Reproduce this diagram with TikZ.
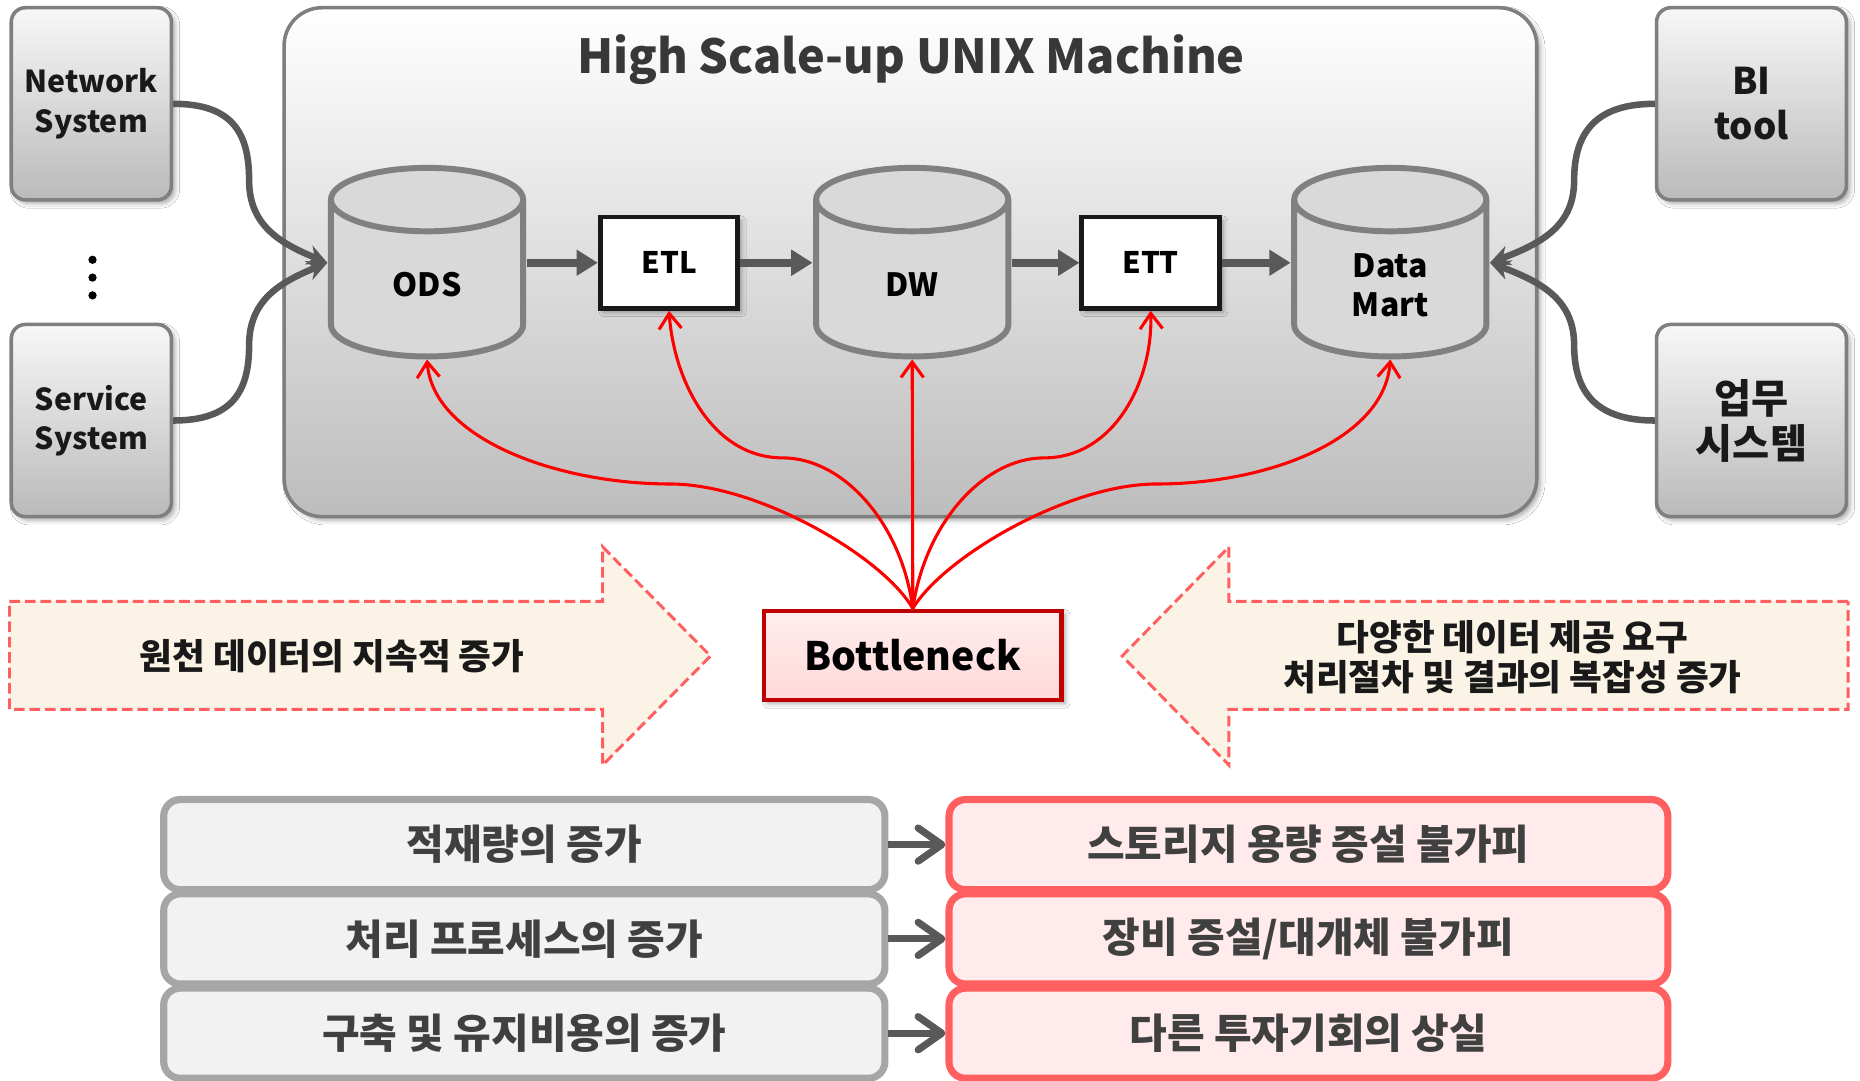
\documentclass[tikz,border=0pt]{standalone}
\usepackage{fontspec}
\setmainfont{Noto Sans CJK KR}
\usetikzlibrary{arrows.meta,shadows.blur}
\definecolor{dgray}{HTML}{595959}
\definecolor{cylgray}{HTML}{808080}
\definecolor{cylfill}{HTML}{D9D9D9}
\definecolor{boxborder}{HTML}{7F7F7F}
\definecolor{txtgray}{HTML}{404040}
\definecolor{titlegray}{HTML}{383838}
\definecolor{salmon}{HTML}{FF5F5F}
\definecolor{cream}{HTML}{FAF3E6}
\definecolor{lgfill}{HTML}{F2F2F2}
\definecolor{lgborder}{HTML}{A6A6A6}
\definecolor{pinkfill}{HTML}{FFEBEB}
\definecolor{bnfill}{HTML}{FFD9D9}
\definecolor{bnborder}{HTML}{C00000}
\definecolor{bnlight}{HTML}{FFEDED}
\newcommand\myfs[2]{\fontsize{#1pt}{#2pt}\selectfont}
\newcommand\drawcyl[1]{%
  \path[draw=cylgray,line width=5pt,fill=cylfill] (#1-81,168.25) -- (#1-81,273.75)
    arc[start angle=180,end angle=360,x radius=81pt,y radius=26.75pt] -- (#1+81,168.25)
    arc[start angle=0,end angle=180,x radius=81pt,y radius=26.75pt] -- cycle;
  \draw[draw=cylgray,line width=5pt] (#1-81,168.25)
    arc[start angle=180,end angle=360,x radius=81pt,y radius=26.75pt];}
\begin{document}
\begin{tikzpicture}[x=1pt,y=-1pt,
  softshadow/.style={blur shadow={shadow xshift=3pt,shadow yshift=-3pt,shadow blur radius=4pt,shadow opacity=35}},
  mainbox/.style={draw=boxborder,line width=3pt,rounded corners=32pt,top color=white,bottom color=black!26,minimum width=1056pt,minimum height=429pt,inner sep=0pt,softshadow},
  titlenode/.style={font=\bfseries\myfs{39.5}{46},text=titlegray},
  sidebox/.style={draw=boxborder,line width=3pt,rounded corners=12pt,top color=black!3,bottom color=black!27,minimum height=162pt,inner sep=0pt,align=center,text=black!90,softshadow},
  dotnode/.style={circle,fill=black,inner sep=0pt,minimum size=7pt},
  cylholder/.style={minimum width=168pt,minimum height=163pt,inner sep=0pt,outer sep=0pt},
  cyltext/.style={font=\bfseries\myfs{27}{33},align=center,text=black},
  procbox/.style={draw=black!90,line width=4pt,fill=white,minimum width=116pt,minimum height=77pt,inner sep=0pt,font=\bfseries\myfs{25}{30},softshadow},
  flowarrow/.style={draw=dgray,line width=6.5pt,-{Triangle[length=18pt,width=21pt]}},
  feedarrow/.style={draw=dgray,line width=5.5pt,-{Stealth[length=17pt,width=17pt]}},
  bnbox/.style={draw=bnborder,line width=4pt,top color=bnlight,bottom color=bnfill,minimum width=251pt,minimum height=75pt,inner sep=0pt,font=\bfseries\myfs{33}{40},softshadow},
  redarrow/.style={draw=red,line width=2.6pt,-{Straight Barb[length=13pt,width=19pt]}},
  bigarrow/.style={draw=salmon,fill=cream,line width=2.5pt,dash pattern=on 9pt off 4pt},
  arrowtext/.style={font=\bfseries\myfs{30}{34},align=center,text=black!90},
  graybox/.style={draw=lgborder,fill=lgfill,line width=6pt,rounded corners=14pt,minimum width=608pt,minimum height=76pt,inner sep=0pt,font=\bfseries\myfs{34.5}{40},text=txtgray},
  pinkbox/.style={draw=salmon,fill=pinkfill,line width=6pt,rounded corners=14pt,minimum width=606pt,minimum height=76pt,inner sep=0pt,font=\bfseries\myfs{34.5}{40},text=txtgray},
  smallarrow/.style={draw=dgray,line width=6pt,-{Straight Barb[length=20pt,width=28pt,round]}}
]
\useasboundingbox (0,0) rectangle (1568,911);
\fill[white] (0,0) rectangle (1568,911);

% main machine box
\node[mainbox] (unix) at (767.5,221) {};
\node[titlenode] (title) at (768,50) {High Scale-up UNIX Machine};

% side systems
\node[sidebox,minimum width=135pt,font=\bfseries\myfs{25.5}{33}] (net) at (77,87.5) {Network\\System};
\node[sidebox,minimum width=135pt,font=\bfseries\myfs{25.5}{33}] (svc) at (77,354.5) {Service\\System};
\node[sidebox,minimum width=160pt,font=\bfseries\myfs{31}{38}] (bi) at (1476.5,87.5) {BI\\tool};
\node[sidebox,minimum width=160pt,font=\bfseries\myfs{34}{38}] (biz) at (1476.5,354.5) {업무\\시스템};
\node[dotnode] (dot1) at (78,219) {};
\node[dotnode] (dot2) at (78,234) {};
\node[dotnode] (dot3) at (78,249) {};

% cylinders
\node[cylholder] (ods) at (360,221.5) {};
\drawcyl{360}
\node[cylholder] (dw) at (769,221.5) {};
\drawcyl{769}
\node[cylholder] (dm) at (1172,221.5) {};
\drawcyl{1172}
\node[cyltext] (odst) at (360,240) {ODS};
\node[cyltext] (dwt) at (769,240) {DW};
\node[cyltext] (dmt) at (1172,240.5) {Data\\Mart};

% process boxes
\node[procbox] (etl) at (564,221.5) {ETL};
\node[procbox] (ett) at (970,221.5) {ETT};

% flow arrows
\draw[flowarrow] (ods.east) -- (etl.west);
\draw[flowarrow] (etl.east) -- (dw.west);
\draw[flowarrow] (dw.east) -- (ett.west);
\draw[flowarrow] (ett.east) -- (dm.west);

% feeding curves
\draw[feedarrow] (net.east) .. controls (196,87.5) and (210,112) .. (210,152) .. controls (210,190) and (236,205) .. (ods.west);
\draw[feedarrow] (svc.east) .. controls (196,354.5) and (210,330) .. (210,291) .. controls (210,253) and (236,238) .. (ods.west);
\draw[feedarrow] (bi.west) .. controls (1345,87.5) and (1327,112) .. (1327,152) .. controls (1327,190) and (1300,205) .. (dm.east);
\draw[feedarrow] (biz.west) .. controls (1345,354.5) and (1327,330) .. (1327,291) .. controls (1327,253) and (1300,238) .. (dm.east);

% big dashed arrows
\path[bigarrow] (8,507) -- (508,507) -- (508,461) -- (599,553) -- (508,645) -- (508,598) -- (8,598) -- cycle;
\path[bigarrow] (1558,507) -- (1036,507) -- (1036,461) -- (946,553) -- (1036,645) -- (1036,598) -- (1558,598) -- cycle;
\node[arrowtext] (lt) at (280,553) {원천 데이터의 지속적 증가};
\node[arrowtext] (rt) at (1275,554) {다양한 데이터 제공 요구\\처리절차 및 결과의 복잡성 증가};

% bottleneck
\node[bnbox] (bn) at (769.5,552.5) {Bottleneck};
\draw[redarrow] (bn.north) .. controls (745,470) and (640,408) .. (565,408) .. controls (470,408) and (365,370) .. (ods.south);
\draw[redarrow] (bn.north) .. controls (760,440) and (710,386) .. (660,386) .. controls (600,386) and (568,320) .. (etl.south);
\draw[redarrow] (bn.north) -- (dw.south);
\draw[redarrow] (bn.north) .. controls (780,440) and (830,386) .. (880,386) .. controls (940,386) and (972,320) .. (ett.south);
\draw[redarrow] (bn.north) .. controls (795,470) and (900,408) .. (975,408) .. controls (1070,408) and (1167,370) .. (dm.south);

% bottom boxes
\node[graybox] (g1) at (442,712) {적재량의 증가};
\node[graybox] (g2) at (442,791.5) {처리 프로세스의 증가};
\node[graybox] (g3) at (442,871) {구축 및 유지비용의 증가};
\node[pinkbox] (r1) at (1103,712) {스토리지 용량 증설 불가피};
\node[pinkbox] (r2) at (1103,791.5) {장비 증설/대개체 불가피};
\node[pinkbox] (r3) at (1103,871) {다른 투자기회의 상실};
\draw[smallarrow] (g1.east) -- (r1.west);
\draw[smallarrow] (g2.east) -- (r2.west);
\draw[smallarrow] (g3.east) -- (r3.west);
\end{tikzpicture}
\end{document}
